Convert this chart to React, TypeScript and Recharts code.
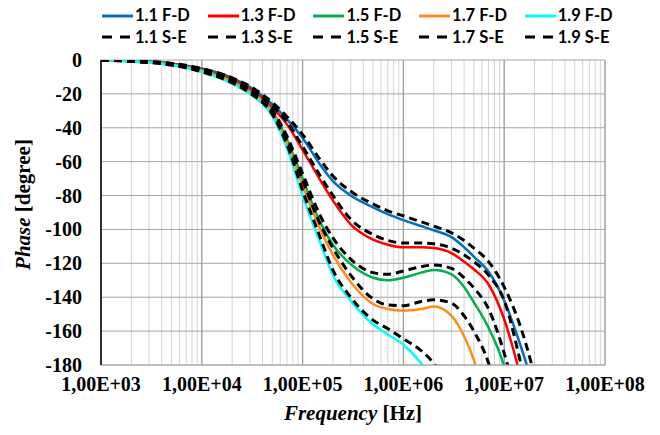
import { CartesianGrid, Line, LineChart, ReferenceLine, XAxis, YAxis } from "recharts";

// frequency points (Hz)
const FREQ = [
  1e3, 2e3, 5e3, 1e4, 2e4, 3e4, 5e4, 7e4, 1e5, 1.5e5, 2e5, 3e5, 5e5, 7e5, 1e6,
  1.5e6, 2e6, 3e6, 4e6, 5e6, 7e6, 1e7, 1.5e7, 2e7, 3e7,
];

// phase [degree], F-D model
const FD_11 = [0, -0.5, -2, -5, -10.5, -16, -26, -35, -46, -62, -71.5, -80, -87, -91, -94.5, -98, -100.5, -104.5, -110.5, -116, -125, -142, -171, -195, null];
const FD_13 = [0, -0.5, -2.2, -5.5, -11.5, -17, -28, -38, -53, -71, -83, -97, -106, -109, -110.5, -110.5, -111, -114, -119, -123.5, -132.5, -153, -190, null, null];
const FD_15 = [0, -0.7, -2.6, -6, -12.5, -18.5, -30, -47, -70, -96, -109, -120.5, -128.5, -130, -128.5, -125.5, -124, -126.5, -134, -143, -158, -181, -230, null, null];
const FD_17 = [0, -0.7, -2.8, -6.5, -13, -19, -31, -49, -74, -100, -115, -131, -144, -147, -148, -147, -145.5, -151, -163, -177, -210, null, null, null, null];
const FD_19 = [0, -0.8, -3, -7, -14, -20, -33, -52, -80, -108, -127, -142, -156, -162, -168, -179, -190, null, null, null, null, null, null, null, null];

// phase [degree], S-E model
const SE_11 = [0, -0.5, -2, -5, -10.5, -15.5, -25, -33.5, -44, -59, -68.5, -77.5, -85, -89, -92, -95.5, -98, -102, -106.5, -111, -119, -134, -160, -186, null];
const SE_13 = [0, -0.5, -2.2, -5.5, -11, -16.5, -27, -36.5, -51, -68.5, -80, -94, -103, -106.5, -108, -108, -108.5, -111, -115, -119, -127, -142, -182, -215, null];
const SE_15 = [0, -0.7, -2.6, -6, -12, -18, -29.5, -45, -67, -92, -105, -117.5, -125.5, -126.5, -124.5, -122, -121, -123, -128.5, -134.5, -147, -173, -215, null, null];
const SE_17 = [0, -0.7, -2.8, -6.5, -12.5, -18.5, -31, -47, -71, -97, -111, -127, -141, -144.5, -145, -142.5, -141.5, -143.5, -151, -160, -179, -215, null, null, null];
const SE_19 = [0, -0.8, -3, -7, -13.5, -19.5, -32, -50, -77, -105, -124, -140, -153.5, -158.5, -164.5, -171.5, -179, -196, null, null, null, null, null, null, null];

const DECADES = [1e3, 1e4, 1e5, 1e6, 1e7, 1e8];
const X_LABELS = ["1,00E+03", "1,00E+04", "1,00E+05", "1,00E+06", "1,00E+07", "1,00E+08"];
const Y_TICKS = [0, -20, -40, -60, -80, -100, -120, -140, -160, -180];

const SERIES = [
  { key: "fd11", name: "1.1 F-D", color: "#0070C0", dashed: false, values: FD_11 },
  { key: "fd13", name: "1.3 F-D", color: "#FF0000", dashed: false, values: FD_13 },
  { key: "fd15", name: "1.5 F-D", color: "#00B050", dashed: false, values: FD_15 },
  { key: "fd17", name: "1.7 F-D", color: "#FF8C1A", dashed: false, values: FD_17 },
  { key: "fd19", name: "1.9 F-D", color: "#00FFFF", dashed: false, values: FD_19 },
  { key: "se11", name: "1.1 S-E", color: "#000000", dashed: true, values: SE_11 },
  { key: "se13", name: "1.3 S-E", color: "#000000", dashed: true, values: SE_13 },
  { key: "se15", name: "1.5 S-E", color: "#000000", dashed: true, values: SE_15 },
  { key: "se17", name: "1.7 S-E", color: "#000000", dashed: true, values: SE_17 },
  { key: "se19", name: "1.9 S-E", color: "#000000", dashed: true, values: SE_19 },
];

const data = FREQ.map((f, i) => {
  const row: Record<string, number | null> = { f };
  SERIES.forEach((s) => (row[s.key] = s.values[i]));
  return row;
});

// decade + minor (2..9) ticks for the log grid
const X_TICKS = DECADES.flatMap((d, i) =>
  i < DECADES.length - 1 ? [1, 2, 3, 4, 5, 6, 7, 8, 9].map((m) => m * d) : [d],
);

const SERIF = "'Liberation Serif', 'Times New Roman', serif";

function xLabel(v: number) {
  const i = DECADES.indexOf(v);
  return i >= 0 ? X_LABELS[i] : "";
}

function XTick({ x, y, payload }: any) {
  const label = xLabel(payload.value);
  if (!label) return null;
  return (
    <text x={x} y={y} dy={14} textAnchor="middle" fontFamily={SERIF} fontWeight={700} fontSize={20} fill="#000">
      {label}
    </text>
  );
}

function YTick({ x, y, payload }: any) {
  return (
    <text x={x} y={y} dy={7} textAnchor="end" fontFamily={SERIF} fontWeight={700} fontSize={20} fill="#000">
      {payload.value}
    </text>
  );
}

function LegendBox() {
  return (
    <div
      style={{
        position: "absolute",
        top: 5,
        left: 102,
        display: "grid",
        gridTemplateColumns: "repeat(5, 105.7px)",
        fontFamily: "Lato, sans-serif",
        fontWeight: 700,
        fontSize: 16.5,
        lineHeight: "21.5px",
        color: "#000",
      }}
    >
      {SERIES.map((s) => (
        <div key={s.key} style={{ display: "flex", alignItems: "center", whiteSpace: "nowrap" }}>
          <svg width={31} height={8}>
            <line
              x1={0}
              y1={4}
              x2={31}
              y2={4}
              stroke={s.color}
              strokeWidth={3}
              strokeDasharray={s.dashed ? "10 8" : undefined}
            />
          </svg>
          <span style={{ marginLeft: 2 }}>{s.name}</span>
        </div>
      ))}
    </div>
  );
}

export default function App() {
  return (
    <div style={{ position: "absolute", left: 0, top: 0, width: 660, height: 435, background: "#fff" }}>
      <LineChart
        width={660}
        height={435}
        data={data}
        margin={{ top: 60, right: 55, bottom: 40, left: 41 }}
      >
        <CartesianGrid stroke="#d4d4d4" strokeWidth={1} horizontal={false} />
        <CartesianGrid stroke="#a6a6a6" strokeWidth={1} vertical={false} />
        {DECADES.map((d) => (
          <ReferenceLine key={d} x={d} stroke="#a0a0a0" strokeWidth={1.3} />
        ))}
        <XAxis
          dataKey="f"
          type="number"
          scale="log"
          domain={[1e3, 1e8]}
          ticks={X_TICKS}
          interval={0}
          allowDataOverflow
          tickFormatter={xLabel}
          tickLine={false}
          tickSize={0}
          tickMargin={12}
          height={30}
          axisLine={{ stroke: "#a6a6a6" }}
          tick={<XTick />}
          label={{
            position: "insideBottom",
            content: ({ viewBox }: any) => (
              <text
                x={viewBox.x + viewBox.width / 2}
                y={viewBox.y + 55}
                textAnchor="middle"
                fontFamily={SERIF}
                fontWeight={700}
                fontSize={21}
                fill="#000"
              >
                <tspan fontStyle="italic">Frequency</tspan> [Hz]
              </text>
            ),
          }}
        />
        <YAxis
          type="number"
          domain={[-180, 0]}
          ticks={Y_TICKS}
          allowDataOverflow
          width={60}
          tickLine={false}
          tickSize={0}
          tickMargin={19}
          axisLine={{ stroke: "#000", strokeWidth: 1.5 }}
          tick={<YTick />}
          label={{
            position: "insideLeft",
            content: ({ viewBox }: any) => {
              const cx = viewBox.x - 11;
              const cy = viewBox.y + viewBox.height / 2 - 8;
              return (
                <text
                  x={cx}
                  y={cy}
                  transform={`rotate(-90 ${cx} ${cy})`}
                  textAnchor="middle"
                  fontFamily={SERIF}
                  fontWeight={700}
                  fontSize={21}
                  fill="#000"
                >
                  <tspan fontStyle="italic">Phase</tspan> [degree]
                </text>
              );
            },
          }}
        />
        {SERIES.map((s) => (
          <Line
            key={s.key}
            dataKey={s.key}
            type="monotone"
            stroke={s.color}
            strokeWidth={s.dashed ? 3 : 2.5}
            strokeDasharray={s.dashed ? "8 5" : undefined}
            dot={false}
            activeDot={false}
            isAnimationActive={false}
          />
        ))}
      </LineChart>
      <LegendBox />
    </div>
  );
}
